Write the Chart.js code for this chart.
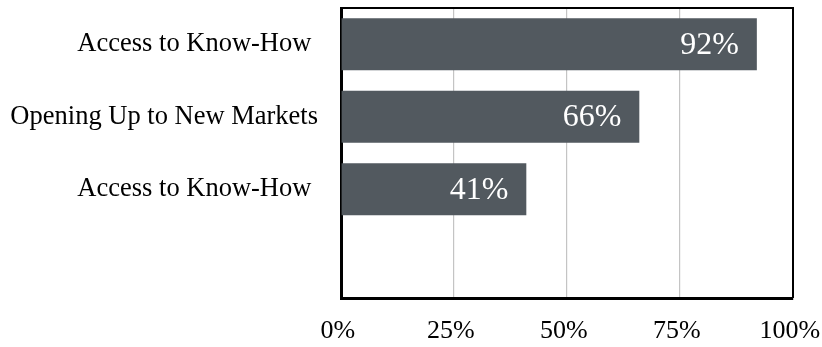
<!DOCTYPE html>
<html>
<head>
<meta charset="utf-8">
<script src="https://cdn.jsdelivr.net/npm/chart.js@4"></script>
<style>
  html, body { margin: 0; padding: 0; background: #fff; }
  #wrap { width: 822px; height: 347px; }
</style>
</head>
<body>
<div id="wrap"><canvas id="chart"></canvas></div>
<script>
// Chart data
const categories = ['Access to Know-How ', 'Opening Up to New Markets', 'Access to Know-How ', ''];
const shares = [92, 66, 41, null];
const xTicks = [0, 25, 50, 75, 100];

const FONT = "'Liberation Serif', 'Times New Roman', serif";

// Draws the value label inside the end of each bar
const valueLabels = {
    id: 'valueLabels',
    afterDatasetsDraw(chart) {
        const ctx = chart.ctx;
        const meta = chart.getDatasetMeta(0);
        ctx.save();
        ctx.font = '32px ' + FONT;
        ctx.fillStyle = '#ffffff';
        ctx.textAlign = 'right';
        ctx.textBaseline = 'middle';
        meta.data.forEach((bar, i) => {
            if (shares[i] == null) return;
            ctx.fillText(shares[i] + '%', bar.x - 18, bar.y + 1);
        });
        ctx.restore();
    }
};

// Thin frame on top and right of the plot area
const plotFrame = {
    id: 'plotFrame',
    afterDraw(chart) {
        const a = chart.chartArea;
        const ctx = chart.ctx;
        ctx.save();
        ctx.strokeStyle = '#000';
        ctx.lineWidth = 2;
        ctx.beginPath();
        ctx.moveTo(a.left, a.top);
        ctx.lineTo(a.right, a.top);
        ctx.lineTo(a.right, a.bottom);
        ctx.stroke();
        ctx.restore();
    }
};

function noPadding(scale) {
    scale.paddingTop = 0;
    scale.paddingBottom = 0;
    scale.paddingLeft = 0;
    scale.paddingRight = 0;
}

new Chart(document.getElementById('chart').getContext('2d'), {
    type: 'bar',
    data: {
        labels: categories,
        datasets: [{
            data: shares,
            backgroundColor: '#52595f',
            borderWidth: 0
        }]
    },
    options: {
        indexAxis: 'y',
        responsive: true,
        maintainAspectRatio: false,
        animation: false,
        layout: { padding: { top: 8, right: 29, left: 0, bottom: 0 } },
        plugins: {
            legend: { display: false },
            tooltip: { enabled: false }
        },
        scales: {
            x: {
                min: 0,
                max: 100,
                afterBuildTicks: (scale) => { scale.ticks = xTicks.map(v => ({ value: v })); },
                afterFit: (scale) => { scale.height = 49; noPadding(scale); },
                grid: { color: '#c4c4c4', lineWidth: 1.2, drawTicks: false },
                border: { color: '#000', width: 3 },
                ticks: {
                    padding: 18,
                    color: '#000',
                    font: { family: FONT, size: 26 },
                    callback: (v) => v + '% '
                }
            },
            y: {
                afterFit: (scale) => { scale.width = 341; noPadding(scale); },
                grid: { display: false, drawTicks: false },
                border: { color: '#000', width: 3 },
                ticks: {
                    padding: 23,
                    color: '#000',
                    font: { family: FONT, size: 26.5 }
                }
            }
        }
    },
    plugins: [valueLabels, plotFrame]
});
</script>
</body>
</html>
